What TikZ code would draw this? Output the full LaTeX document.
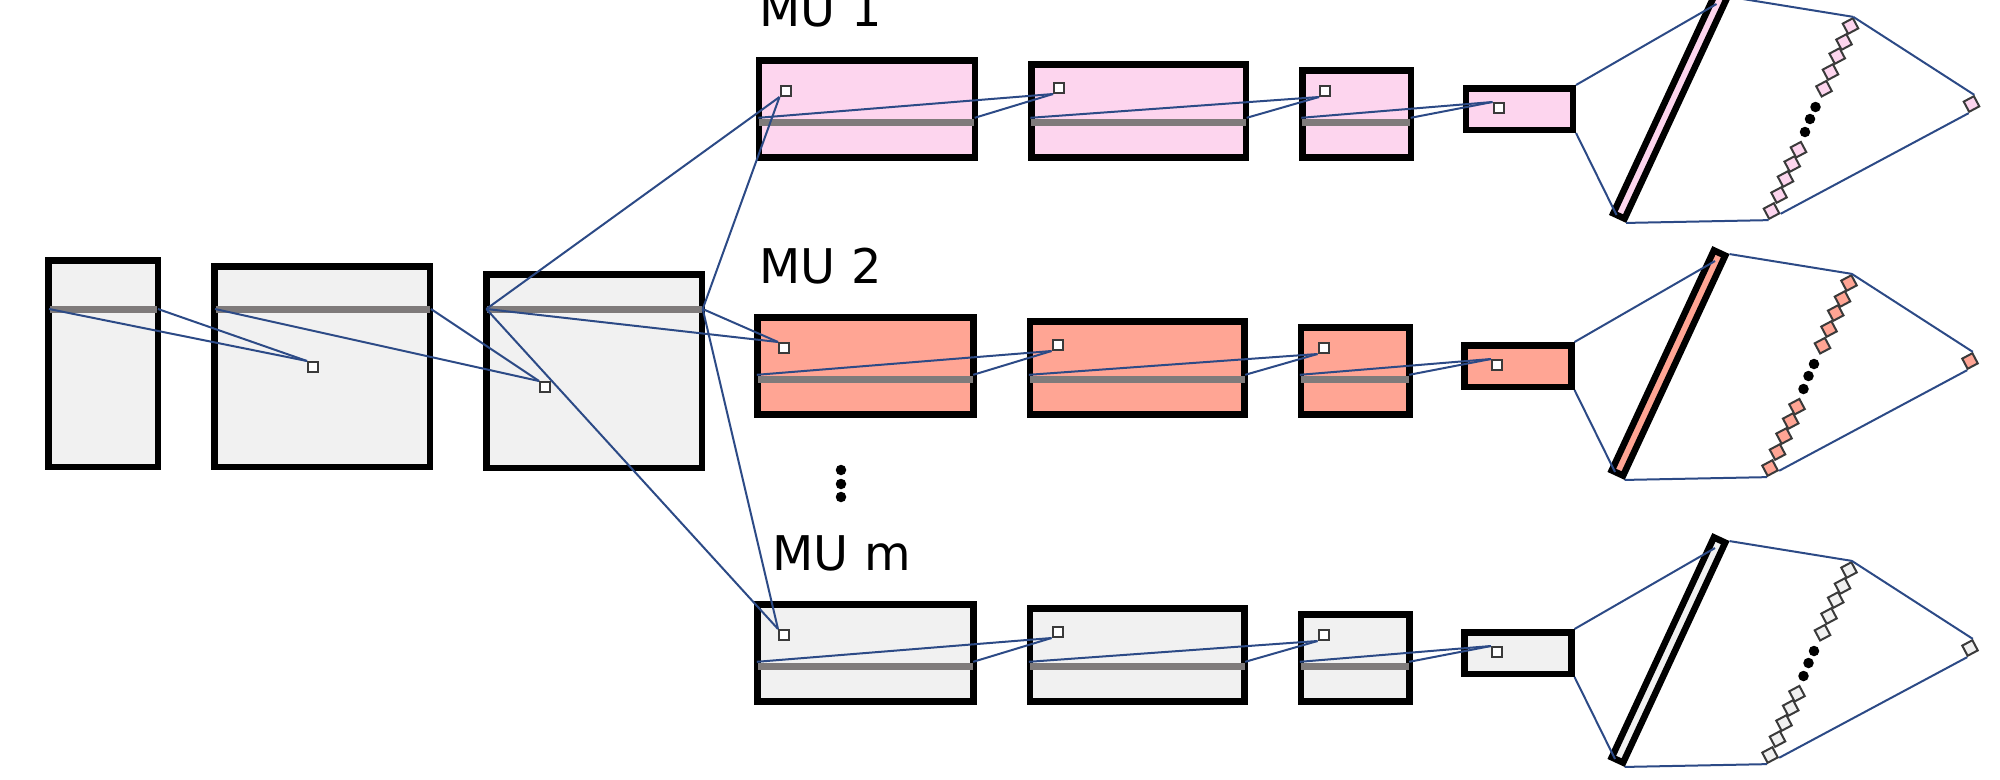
\documentclass[tikz,border=0pt]{standalone}
\usepackage{xcolor}
\usepackage{fontspec}
\setmainfont{DejaVu Sans}
\usepackage{tikz}
\definecolor{mupink}{HTML}{FDD5EE}
\definecolor{musalmon}{HTML}{FFA594}
\definecolor{mugray}{HTML}{F1F1F1}
\definecolor{wirenavy}{HTML}{2C4A86}
\definecolor{barstone}{HTML}{7F7B7B}
\definecolor{pinframe}{HTML}{3A3A3A}
\tikzset{
  layerbox/.style={draw=black,line width=0.065cm,rectangle,inner sep=0pt},
  barmark/.style={fill=barstone,rectangle,inner sep=0pt,minimum height=0.07cm},
  pinmark/.style={draw=pinframe,fill=white,line width=0.02cm,rectangle,inner sep=0pt,minimum size=0.1cm},
  cellmark/.style={draw=pinframe,line width=0.02cm,rectangle,inner sep=0pt,minimum size=0.115cm,rotate=28},
  dotmark/.style={fill=black,circle,inner sep=0pt,minimum size=0.105cm},
  wire/.style={draw=wirenavy,line width=0.02cm},
  mulabel/.style={anchor=base west,inner sep=0pt,font=\fontsize{13.6}{16}\selectfont}
}

\begin{document}
\begin{tikzpicture}[scale=1]
  \useasboundingbox (0,0) rectangle (20,-7.79);
  \clip (0,0) rectangle (20,-7.79);
  % shared layers on the left
  \node[layerbox,fill=mugray,minimum width=1.095cm,minimum height=2.065cm] (inA) at (1.03,-3.635) {};
  \node[layerbox,fill=mugray,minimum width=2.155cm,minimum height=2.005cm] (inB) at (3.22,-3.665) {};
  \node[layerbox,fill=mugray,minimum width=2.155cm,minimum height=1.935cm] (inC) at (5.94,-3.71) {};
  \node[barmark,minimum width=1.075cm] (inAbar) at (1.035,-3.09) {};
  \node[barmark,minimum width=2.145cm] (inBbar) at (3.23,-3.09) {};
  \node[barmark,minimum width=2.15cm] (inCbar) at (5.945,-3.09) {};
  \node[pinmark] (inBpin) at (3.13,-3.67) {};
  \node[pinmark] (inCpin) at (5.45,-3.87) {};
  \draw[wire] (inAbar.west) -- (inBpin.north west);
  \draw[wire] (inAbar.east) -- (inBpin.north west);
  \draw[wire] (inBbar.west) -- (inCpin.north west);
  \draw[wire] (inBbar.east) -- (inCpin.north west);
  % one row for each MU
  \foreach \unit/\dx/\dy/\col in {one/0/0/mupink,two/-0.015/-2.57/musalmon,last/-0.015/-5.44/mugray}{
    \begin{scope}[shift={(\dx,\dy)}]
      \node[layerbox,fill=\col,minimum width=2.16cm,minimum height=0.972cm] (\unit A) at (8.6675,-1.0885) {};
      \node[layerbox,fill=\col,minimum width=2.145cm,minimum height=0.932cm] (\unit B) at (11.385,-1.1085) {};
      \node[layerbox,fill=\col,minimum width=1.085cm,minimum height=0.872cm] (\unit C) at (13.565,-1.1385) {};
      \node[layerbox,fill=\col,minimum width=1.07cm,minimum height=0.415cm] (\unit D) at (15.1925,-1.09) {};
      \node[barmark,minimum width=2.15cm] (\unit Abar) at (8.665,-1.22) {};
      \node[barmark,minimum width=2.15cm] (\unit Bbar) at (11.385,-1.22) {};
      \node[barmark,minimum width=1.08cm] (\unit Cbar) at (13.56,-1.22) {};
      \node[pinmark] (\unit Apin) at (7.855,-0.91) {};
      \node[pinmark] (\unit Bpin) at (10.59,-0.88) {};
      \node[pinmark] (\unit Cpin) at (13.25,-0.91) {};
      \node[pinmark] (\unit Dpin) at (14.985,-1.08) {};
      \draw[wire] (\unit Abar.north west) -- (\unit Bpin.south west);
      \draw[wire] (\unit Abar.north east) -- (\unit Bpin.south west);
      \draw[wire] (\unit Bbar.north west) -- (\unit Cpin.south west);
      \draw[wire] (\unit Bbar.north east) -- (\unit Cpin.south west);
      \draw[wire] (\unit Cbar.north west) -- (\unit Dpin.north west);
      \draw[wire] (\unit Cbar.north east) -- (\unit Dpin.north west);
      % slanted layer and its output cells
      \node[layerbox,fill=\col,minimum width=2.425cm,minimum height=0.125cm,rotate=65.1] (\unit F) at (16.70,-1.06) {};
      \foreach \i/\x/\y in {1/18.505/-0.26,2/18.44/-0.42,3/18.372/-0.56,4/18.305/-0.72,5/18.24/-0.887,6/17.985/-1.497,7/17.922/-1.64,8/17.855/-1.79,9/17.79/-1.95,10/17.715/-2.11}{
        \node[cellmark,fill=\col] (\unit cell\i) at (\x,\y) {};
      }
      \foreach \i/\x/\y in {1/18.155/-1.07,2/18.10/-1.19,3/18.05/-1.32}{
        \node[dotmark] (\unit gap\i) at (\x,\y) {};
      }
      \node[cellmark,fill=\col] (\unit out) at (19.715,-1.04) {};
      \coordinate (\unit Ftop) at (17.165,-0.04);
      \coordinate (\unit Fbot) at (16.165,-2.15);
      \draw[wire] (\unit D.north east) -- (\unit Ftop);
      \draw[wire] (\unit D.south east) -- (\unit Fbot);
      \draw[wire] (\unit F.south east) -- (\unit cell1.north east);
      \draw[wire] (\unit F.south west) -- (\unit cell10.south west);
      \draw[wire] (\unit cell1.north east) -- (\unit out.north east);
      \draw[wire] (\unit cell10.south east) -- (\unit out.south west);
    \end{scope}
  }
  \draw[wire] (inCbar.west) -- (oneApin.south west);
  \draw[wire] (inCbar.east) -- (oneApin.south west);
  \draw[wire] (inCbar.west) -- (twoApin.north west);
  \draw[wire] (inCbar.east) -- (twoApin.north west);
  \draw[wire] (inCbar.west) -- (lastApin.north west);
  \draw[wire] (inCbar.east) -- (lastApin.north west);
  \node[mulabel] (labelone) at (7.59,-0.26) {MU 1};
  \node[mulabel] (labeltwo) at (7.59,-2.83) {MU 2};
  \node[mulabel] (labellast) at (7.72,-5.70) {MU m};
  \foreach \i/\y in {1/-4.70,2/-4.84,3/-4.97}{
    \node[dotmark] (rowgap\i) at (8.41,\y) {};
  }
\end{tikzpicture}
\end{document}
